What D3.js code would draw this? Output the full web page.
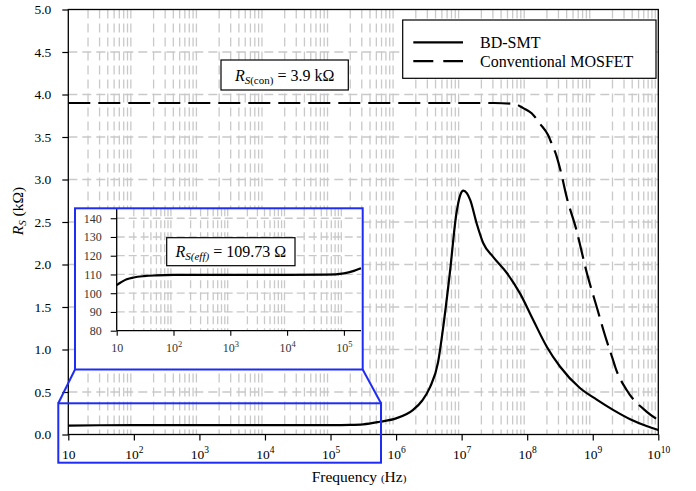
<!DOCTYPE html>
<html>
<head>
<meta charset="utf-8">
<script src="https://cdn.jsdelivr.net/npm/d3@7"></script>
<style>
  html, body { margin: 0; padding: 0; background: #fff; }
  svg { display: block; }
</style>
</head>
<body>
<svg id="chart" width="696" height="491" font-family="Liberation Serif"></svg>
<script>
// Annotated levels
const RS_EFF_OHM = 109.73;   // effective source resistance of BD-SMT (Ω)
const RS_CON_KOHM = 3.9;     // source resistance of conventional MOSFET (kΩ)

// BD-SMT source resistance vs frequency (Hz, kΩ)
const freqBd = [1e1, 3e1, 1e2, 1e3, 1e4, 1e5, 2e5, 3.16e5, 5.62e5, 1e6, 1.82e6, 2.51e6,
  3.31e6, 4.37e6, 5.25e6, 6.61e6, 8.32e6, 9.55e6, 1.06e7, 1.2e7, 1.35e7, 1.7e7, 2.14e7,
  3.02e7, 4.9e7, 7.76e7, 1.23e8, 2.0e8, 3.16e8, 6.31e8, 1.15e9, 2.04e9, 3.72e9, 6.61e9, 1e10];
const rsBd = [0.1043, 0.1088, 0.10973, 0.10973, 0.10973, 0.1108, 0.1132, 0.12, 0.15, 0.19, 0.29, 0.40,
  0.56, 0.85, 1.27, 1.90, 2.60, 2.82, 2.87, 2.84, 2.76, 2.48, 2.25,
  2.09, 1.90, 1.66, 1.35, 1.03, 0.80, 0.55, 0.41, 0.29, 0.18, 0.10, 0.053];

// Conventional MOSFET source resistance vs frequency (Hz, kΩ)
const freqCon = [1e1, 1e7, 3.16e7, 6.31e7, 8.71e7, 1.17e8, 1.55e8, 2.09e8, 2.34e8, 2.82e8,
  3.31e8, 3.98e8, 5.62e8, 8.13e8, 1.15e9, 1.62e9, 2.04e9, 2.19e9, 3.31e9, 6.61e9, 1e10];
const rsCon = [RS_CON_KOHM, RS_CON_KOHM, 3.9, 3.89, 3.84, 3.78, 3.66, 3.52, 3.43, 3.27,
  3.07, 2.80, 2.41, 1.90, 1.50, 1.11, 0.876, 0.80, 0.52, 0.27, 0.17];

// Low-frequency detail of BD-SMT (Hz, Ω)
const freqInset = [10, 15, 20, 30, 50, 100, 1e3, 1e4, 5e4, 1e5, 1.5e5, 2e5];
const rsInset = [104.3, 107.4, 108.4, 109.1, 109.5, RS_EFF_OHM, RS_EFF_OHM, RS_EFF_OHM, 109.9, 110.6, 111.9, 113.3];

// Tick values
const yTicksMain = [0, 0.5, 1, 1.5, 2, 2.5, 3, 3.5, 4, 4.5, 5];
const xTicksMain = [1e1, 1e2, 1e3, 1e4, 1e5, 1e6, 1e7, 1e8, 1e9, 1e10];
const yTicksInset = [80, 90, 100, 110, 120, 130, 140];
const xTicksInset = [1e1, 1e2, 1e3, 1e4, 1e5];

const legendItems = ["BD-SMT", "Conventional MOSFET"];

const FONT = "Liberation Serif";
const BLUE = "#1f2cf2";
const GRID = "#c9c9c9";

const svg = d3.select("#chart");
svg.append("rect").attr("width", 696).attr("height", 491).attr("fill", "#fff");

const P = { left: 68.3, right: 658.3, top: 9.5, bottom: 434.5 };
const x = d3.scaleLog().domain([10, 1e10]).range([P.left, P.right]);
const y = d3.scaleLinear().domain([0, 5]).range([P.bottom, P.top]);

const isDecade = d => Math.abs(Math.log10(d) - Math.round(Math.log10(d))) < 1e-9;

// ---- grid ----
const grid = svg.append("g").attr("stroke", GRID).attr("stroke-width", 1.3)
  .attr("stroke-dasharray", "9,5").attr("fill", "none");
grid.selectAll("line.v").data(x.ticks().filter(d => !isDecade(d))).join("line")
  .attr("x1", d => x(d)).attr("x2", d => x(d)).attr("y1", P.top).attr("y2", P.bottom);
grid.selectAll("line.h").data(yTicksMain.filter(d => d > 0 && d < 5)).join("line")
  .attr("class", "h")
  .attr("x1", P.left).attr("x2", P.right).attr("y1", d => y(d)).attr("y2", d => y(d));

// ---- curves ----
const line = d3.line().x(d => x(d[0])).y(d => y(d[1])).curve(d3.curveMonotoneX);
svg.append("path").datum(d3.zip(freqCon, rsCon))
  .attr("d", line).attr("fill", "none").attr("stroke", "#000")
  .attr("stroke-width", 2.2).attr("stroke-dasharray", "22,8");
svg.append("path").datum(d3.zip(freqBd, rsBd))
  .attr("d", line).attr("fill", "none").attr("stroke", "#000").attr("stroke-width", 2.2);

// ---- axes ----
const yAxis = svg.append("g").attr("transform", `translate(${P.left},0)`)
  .call(d3.axisLeft(y).tickValues(yTicksMain).tickFormat(d3.format(".1f"))
    .tickSize(6).tickPadding(11));
yAxis.attr("font-family", FONT);
yAxis.select(".domain").remove();
yAxis.selectAll("line").attr("stroke", "#000").attr("stroke-width", 1.2);
yAxis.selectAll("text").attr("font-size", 13.5).attr("fill", "#000");

function expLabel(sel, size, supSize, base) {
  sel.each(function (d) {
    const t = d3.select(this);
    const e = Math.round(Math.log10(d));
    t.text(null).attr("y", base).attr("dy", 0);
    t.append("tspan").text("10");
    if (e !== 1) {
      t.append("tspan").attr("dy", -size * 0.42).attr("font-size", supSize).text(e);
    }
  });
}

const xAxis = svg.append("g").attr("transform", `translate(0,${P.bottom})`)
  .call(d3.axisBottom(x).tickValues(xTicksMain).tickSize(6));
xAxis.attr("font-family", FONT);
xAxis.select(".domain").remove();
xAxis.selectAll("line").attr("stroke", "#000").attr("stroke-width", 1.2);
xAxis.selectAll("text").attr("font-size", 13.5)
  .attr("fill", "#000").call(expLabel, 13.5, 9.5, 24.5);

// plot frame
svg.append("rect").attr("x", P.left).attr("y", P.top)
  .attr("width", P.right - P.left).attr("height", P.bottom - P.top)
  .attr("fill", "none").attr("stroke", "#000").attr("stroke-width", 1.3);

// ---- axis titles ----
const yTitle = svg.append("text").attr("transform", "translate(23,211) rotate(-90)")
  .attr("text-anchor", "middle").attr("font-size", 15.5);
yTitle.append("tspan").attr("font-style", "italic").text("R");
yTitle.append("tspan").attr("font-style", "italic").attr("font-size", 11).attr("dy", 3).text("S");
yTitle.append("tspan").attr("dy", -3).text(" (kΩ)");

const xTitle = svg.append("text").attr("x", 359).attr("y", 482)
  .attr("text-anchor", "middle").attr("font-size", 15.5);
xTitle.append("tspan").text("Frequency ");
xTitle.append("tspan").attr("font-size", 11).text("(");
xTitle.append("tspan").text("Hz");
xTitle.append("tspan").attr("font-size", 11).text(")");

// ---- legend ----
const lg = svg.append("g");
lg.append("rect").attr("x", 402.7).attr("y", 20).attr("width", 253.3).attr("height", 58.3)
  .attr("fill", "#fff").attr("stroke", "#000").attr("stroke-width", 1.2);
legendItems.forEach((name, i) => {
  const ly = 42.3 + i * 18.8;
  lg.append("line").attr("x1", 413.3).attr("x2", 463).attr("y1", ly).attr("y2", ly)
    .attr("stroke", "#000").attr("stroke-width", 2.2)
    .attr("stroke-dasharray", i === 1 ? "20,10" : null);
  lg.append("text").attr("x", 480).attr("y", ly + 5.5).attr("font-size", 16).text(name);
});

// ---- R_S(con) annotation ----
const ac = svg.append("g");
ac.append("rect").attr("x", 221).attr("y", 60).attr("width", 127.3).attr("height", 30)
  .attr("fill", "#fff").attr("stroke", "#000").attr("stroke-width", 1.2);
const act = ac.append("text").attr("x", 284.6).attr("y", 80.5).attr("text-anchor", "middle").attr("font-size", 16);
act.append("tspan").attr("font-style", "italic").text("R");
act.append("tspan").attr("font-style", "italic").attr("font-size", 11).attr("dy", 3.5).text("S");
act.append("tspan").attr("font-size", 11).text("(con)");
act.append("tspan").attr("dy", -3.5).text(` = ${RS_CON_KOHM} kΩ`);

// ---- zoom region marker and connectors ----
const zoomBox = { x0: 58.3, x1: 381, y0: 403.3, y1: 462.7 };
const inset = { x0: 75, x1: 362.7, y0: 208.3, y1: 369.5 };
svg.append("rect").attr("x", zoomBox.x0).attr("y", zoomBox.y0)
  .attr("width", zoomBox.x1 - zoomBox.x0).attr("height", zoomBox.y1 - zoomBox.y0)
  .attr("fill", "none").attr("stroke", BLUE).attr("stroke-width", 2);
svg.append("line").attr("x1", inset.x0).attr("y1", inset.y1).attr("x2", zoomBox.x0).attr("y2", zoomBox.y0)
  .attr("stroke", BLUE).attr("stroke-width", 2);
svg.append("line").attr("x1", inset.x1).attr("y1", inset.y1).attr("x2", zoomBox.x1).attr("y2", zoomBox.y0)
  .attr("stroke", BLUE).attr("stroke-width", 2);

// ---- inset ----
const gi = svg.append("g");
gi.append("rect").attr("x", inset.x0).attr("y", inset.y0)
  .attr("width", inset.x1 - inset.x0).attr("height", inset.y1 - inset.y0).attr("fill", "#fff");

const IP = { left: 116.7, right: 361, top: 208.3, bottom: 330.7 };
const xi = d3.scaleLog().domain([10, 2e5]).range([IP.left, IP.right]);
const yi = d3.scaleLinear().domain([80, 145.3]).range([IP.bottom, IP.top]);

const gridI = gi.append("g").attr("stroke", GRID).attr("stroke-width", 1.3)
  .attr("stroke-dasharray", "8,4");
gridI.selectAll("line.v").data(xi.ticks().filter(d => !isDecade(d) && d < 2e5)).join("line")
  .attr("x1", d => xi(d)).attr("x2", d => xi(d)).attr("y1", IP.top).attr("y2", IP.bottom);
gridI.selectAll("line.h").data(yTicksInset.filter(d => d > 80)).join("line")
  .attr("class", "h")
  .attr("x1", IP.left).attr("x2", IP.right).attr("y1", d => yi(d)).attr("y2", d => yi(d));

const lineI = d3.line().x(d => xi(d[0])).y(d => yi(d[1])).curve(d3.curveMonotoneX);
gi.append("path").datum(d3.zip(freqInset, rsInset)).attr("d", lineI)
  .attr("fill", "none").attr("stroke", "#000").attr("stroke-width", 2.2);

const yAxI = gi.append("g").attr("transform", `translate(${IP.left},0)`)
  .call(d3.axisLeft(yi).tickValues(yTicksInset).tickSize(6).tickPadding(9));
yAxI.attr("font-family", FONT);
yAxI.select(".domain").remove();
yAxI.selectAll("line").attr("stroke", "#000").attr("stroke-width", 1.1);
yAxI.selectAll("text").attr("font-size", 12).attr("fill", "#333");

const xAxI = gi.append("g").attr("transform", `translate(0,${IP.bottom})`)
  .call(d3.axisBottom(xi).tickValues(xTicksInset).tickSize(5));
xAxI.attr("font-family", FONT);
xAxI.select(".domain").remove();
xAxI.selectAll("line").attr("stroke", "#000").attr("stroke-width", 1.1);
xAxI.selectAll("text").attr("font-size", 12)
  .attr("fill", "#333").call(expLabel, 12, 8.5, 21.5);

gi.append("line").attr("x1", IP.left).attr("x2", IP.left).attr("y1", IP.top).attr("y2", IP.bottom)
  .attr("stroke", "#000").attr("stroke-width", 1.3);
gi.append("line").attr("x1", IP.left).attr("x2", IP.right).attr("y1", IP.bottom).attr("y2", IP.bottom)
  .attr("stroke", "#000").attr("stroke-width", 1.3);

// R_S(eff) annotation
gi.append("rect").attr("x", 166.7).attr("y", 237.7).attr("width", 128.3).attr("height", 28)
  .attr("fill", "#fff").attr("stroke", "#000").attr("stroke-width", 1.2);
const aet = gi.append("text").attr("x", 230.8).attr("y", 256.5).attr("text-anchor", "middle").attr("font-size", 16);
aet.append("tspan").attr("font-style", "italic").text("R");
aet.append("tspan").attr("font-style", "italic").attr("font-size", 11).attr("dy", 3.5).text("S(eff)");
aet.append("tspan").attr("dy", -3.5).text(` = ${RS_EFF_OHM} Ω`);

gi.append("rect").attr("x", inset.x0).attr("y", inset.y0)
  .attr("width", inset.x1 - inset.x0).attr("height", inset.y1 - inset.y0)
  .attr("fill", "none").attr("stroke", BLUE).attr("stroke-width", 2);

// serif type throughout
svg.selectAll("text").attr("font-family", FONT);
</script>
</body>
</html>
